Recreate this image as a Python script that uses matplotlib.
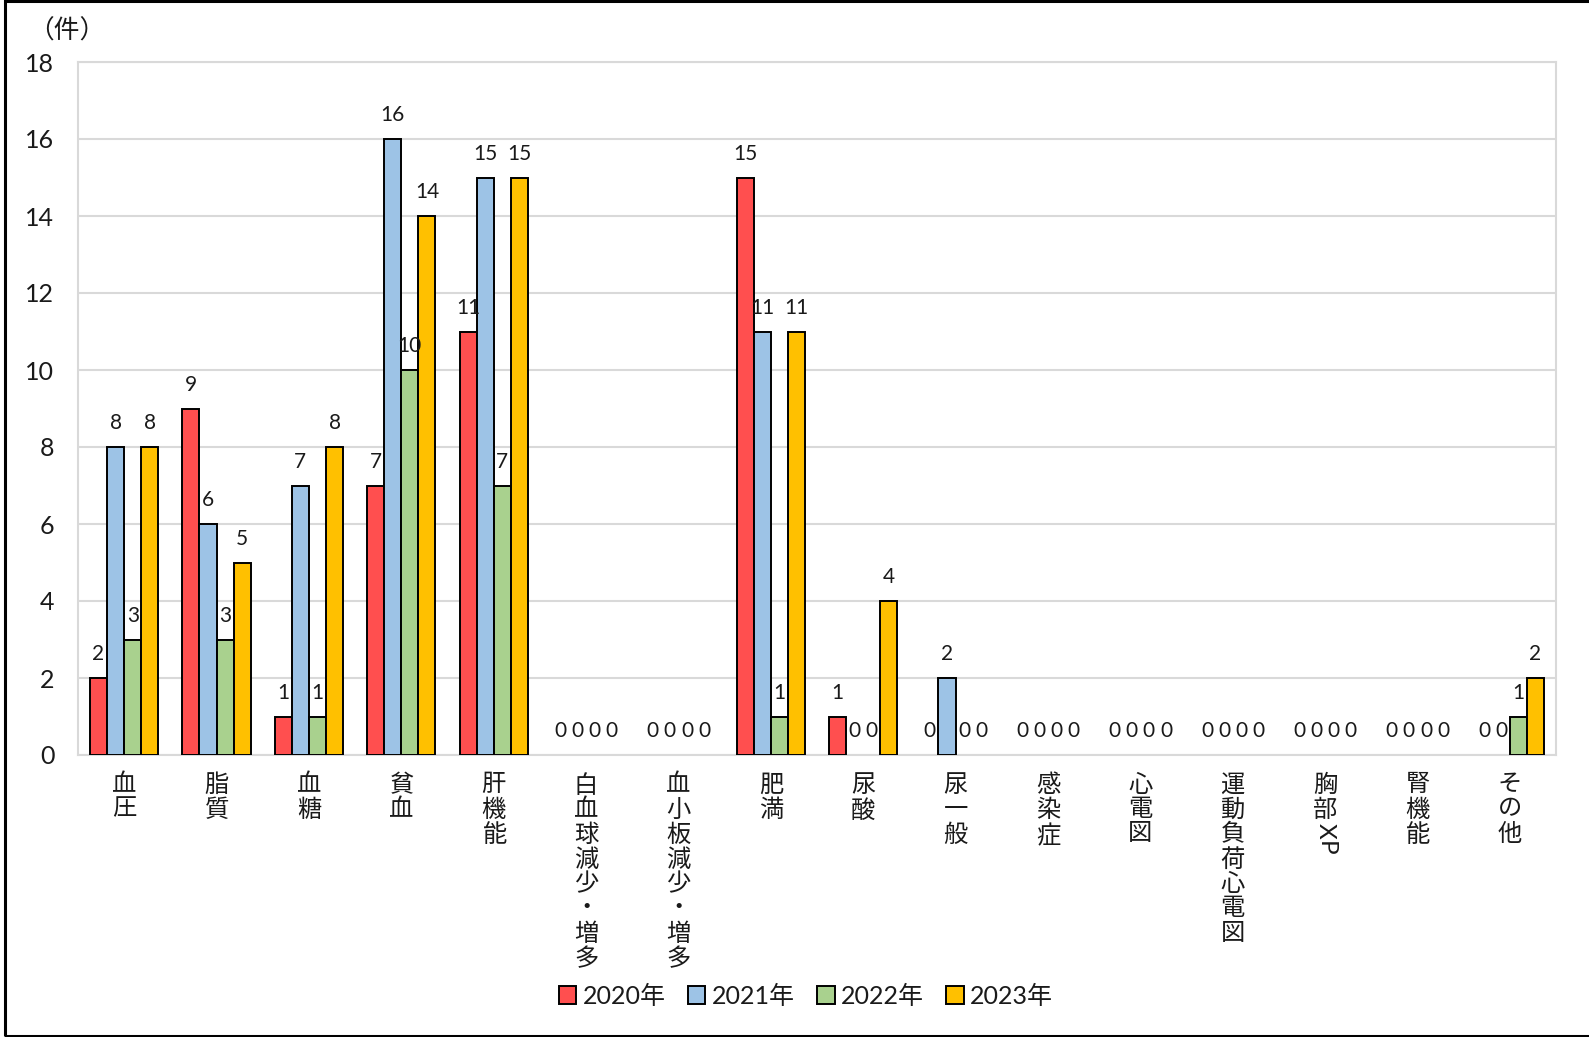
import matplotlib
matplotlib.use("Agg")
import matplotlib.pyplot as plt
import matplotlib.transforms as mtransforms
from matplotlib.patches import Rectangle
import numpy as np

plt.rcParams['font.family'] = ['Lato', 'Noto Sans CJK JP', 'DejaVu Sans']

categories = ["血圧", "脂質", "血糖", "貧血", "肝機能", "白血球減少・増多", "血小板減少・増多",
              "肥満", "尿酸", "尿一般", "感染症", "心電図", "運動負荷心電図", "胸部XP", "腎機能", "その他"]
years = ["2020年", "2021年", "2022年", "2023年"]
v2020 = [2, 9, 1, 7, 11, 0, 0, 15, 1, 0, 0, 0, 0, 0, 0, 0]
v2021 = [8, 6, 7, 16, 15, 0, 0, 11, 0, 2, 0, 0, 0, 0, 0, 0]
v2022 = [3, 3, 1, 10, 7, 0, 0, 1, 0, 0, 0, 0, 0, 0, 0, 1]
v2023 = [8, 5, 8, 14, 15, 0, 0, 11, 4, 0, 0, 0, 0, 0, 0, 2]
series = [v2020, v2021, v2022, v2023]
colors = ["#FF4F4F", "#9DC3E6", "#A9D18E", "#FFC000"]
y_ticks = [0, 2, 4, 6, 8, 10, 12, 14, 16, 18]

W, H = 1589, 1037
fig = plt.figure(figsize=(W / 100, H / 100), dpi=100)
ax = fig.add_axes([78 / W, 1 - 755 / H, (1556 - 78) / W, (755 - 62) / H])

x = np.arange(len(categories))
bw = 0.185
grid_c = "#D9D9D9"
txt_c = "#1a1a1a"

for i, (vals, c, yr) in enumerate(zip(series, colors, years)):
    pos = x + (i - 1.5) * bw
    # zero-height bars get no outline
    lws = [1.4 if v > 0 else 0 for v in vals]
    ax.bar(pos, vals, width=bw, color=c, edgecolor="black", linewidth=lws,
           label=yr, zorder=3)
    for xp, v in zip(pos, vals):
        ax.annotate(str(v), (xp, v), xytext=(0, 17), textcoords="offset points",
                    ha="center", va="center", fontsize=15, color=txt_c, zorder=4)

ax.set_xlim(-0.5, len(categories) - 0.5)
ax.set_ylim(0, 18)
ax.set_yticks(y_ticks)
ax.tick_params(axis="y", length=0, pad=17, labelsize=18, labelcolor=txt_c)
ax.set_xticks(x)
ax.set_xticklabels([])
ax.tick_params(axis="x", length=0)
ax.grid(axis="y", color=grid_c, linewidth=1.5, zorder=0)
for s in ax.spines.values():
    s.set_color(grid_c)
    s.set_linewidth(1.5)

# vertical category labels, one character at a time
trans = mtransforms.blended_transform_factory(ax.transData, ax.transAxes)
step_cjk = 17.9
step_lat = 12.5
for xi, lab in zip(x, categories):
    off = -13.5
    for ch in lab:
        latin = ch.isascii()
        ax.annotate(ch, (xi, 0), xycoords=trans, xytext=(0, off),
                    textcoords="offset points", ha="center", va="top",
                    fontsize=17.5, color=txt_c,
                    rotation=-90 if latin else 0, annotation_clip=False)
        off -= step_lat if latin else step_cjk

fig.text(28 / W, 1 - 31 / H, "（件）", fontsize=18.5, ha="left", va="center", color=txt_c)

leg = fig.legend(loc="center", bbox_to_anchor=(806 / W, 1 - 996 / H), ncol=4, frameon=False,
                 fontsize=18, handlelength=0.7, handleheight=0.7, handletextpad=0.25,
                 columnspacing=0.9)
for h in leg.legend_handles:
    h.set_linewidth(1.4)
for t in leg.get_texts():
    t.set_color(txt_c)

# outer frame
fig.add_artist(Rectangle((5 / W, 1 / H), 1.2, 1 - 2 / H, transform=fig.transFigure,
                         fill=False, edgecolor="black", linewidth=2.2, clip_on=False))

fig.savefig("out.png", dpi=100, facecolor="white")
